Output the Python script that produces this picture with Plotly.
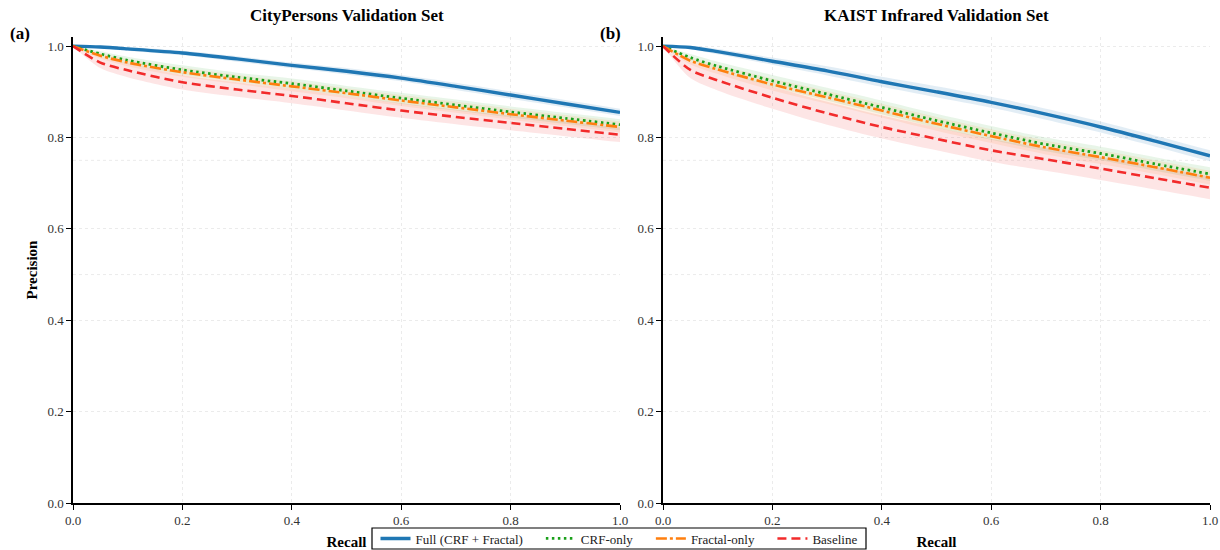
import plotly.graph_objects as go
from plotly.subplots import make_subplots

# ---------------- data ----------------
recall = [0.0, 0.05, 0.1, 0.2, 0.3, 0.4, 0.5, 0.6, 0.7, 0.8, 0.9, 1.0]

models = ["Full (CRF + Fractal)", "CRF-only", "Fractal-only", "Baseline"]

# CityPersons (a)
cp_full    = [1.0, 0.998, 0.994, 0.985, 0.972, 0.958, 0.945, 0.930, 0.912, 0.893, 0.874, 0.855]
cp_crf     = [1.0, 0.983, 0.969, 0.948, 0.932, 0.918, 0.902, 0.886, 0.871, 0.856, 0.842, 0.828]
cp_fractal = [1.0, 0.979, 0.964, 0.943, 0.927, 0.912, 0.897, 0.881, 0.866, 0.851, 0.837, 0.823]
cp_base    = [1.0, 0.964, 0.947, 0.921, 0.905, 0.891, 0.875, 0.859, 0.845, 0.832, 0.819, 0.806]

cp_full_sd    = [0.0, 0.003, 0.004, 0.005, 0.006, 0.006, 0.007, 0.007, 0.008, 0.008, 0.008, 0.008]
cp_crf_sd     = [0.0, 0.006, 0.008, 0.010, 0.010, 0.011, 0.011, 0.012, 0.012, 0.012, 0.012, 0.012]
cp_fractal_sd = [0.0, 0.006, 0.008, 0.010, 0.010, 0.011, 0.011, 0.012, 0.012, 0.012, 0.012, 0.012]
cp_base_sd    = [0.0, 0.012, 0.015, 0.016, 0.016, 0.016, 0.016, 0.016, 0.016, 0.016, 0.016, 0.016]

# KAIST infrared (b)
ka_full    = [1.0, 0.997, 0.988, 0.967, 0.946, 0.922, 0.900, 0.877, 0.851, 0.823, 0.792, 0.760]
ka_crf     = [1.0, 0.975, 0.956, 0.924, 0.895, 0.866, 0.837, 0.810, 0.785, 0.765, 0.742, 0.720]
ka_fractal = [1.0, 0.968, 0.949, 0.916, 0.888, 0.859, 0.830, 0.803, 0.778, 0.757, 0.735, 0.712]
ka_base    = [1.0, 0.948, 0.925, 0.887, 0.853, 0.823, 0.797, 0.772, 0.752, 0.732, 0.711, 0.690]

ka_full_sd    = [0.0, 0.004, 0.006, 0.008, 0.010, 0.011, 0.012, 0.012, 0.012, 0.012, 0.012, 0.012]
ka_crf_sd     = [0.0, 0.008, 0.010, 0.013, 0.014, 0.015, 0.015, 0.015, 0.015, 0.015, 0.015, 0.015]
ka_fractal_sd = [0.0, 0.008, 0.010, 0.013, 0.014, 0.015, 0.015, 0.015, 0.015, 0.015, 0.015, 0.015]
ka_base_sd    = [0.0, 0.018, 0.022, 0.024, 0.025, 0.025, 0.025, 0.025, 0.025, 0.025, 0.025, 0.025]

ref_levels = [0.5, 0.75]
tick_vals = [0.0, 0.2, 0.4, 0.6, 0.8, 1.0]
tick_text = ["0.0", "0.2", "0.4", "0.6", "0.8", "1.0"]

panel_titles = ["CityPersons Validation Set", "KAIST Infrared Validation Set"]
panel_labels = ["(a)", "(b)"]

# ---------------- styles ----------------
colors = ["#1f77b4", "#1aa01a", "#ff7f0e", "#f22b2b"]
fills = ["rgba(31,119,180,0.13)", "rgba(26,160,26,0.10)", "rgba(255,127,14,0.10)", "rgba(242,43,43,0.12)"]
dashes = ["solid", "2.5px,3.5px", "11px,3px,3px,3px", "9px,5px"]
widths = [3.4, 2.8, 2.6, 2.6]
legend_pad = ["\u00a0\u00a0\u00a0\u00a0", "\u00a0\u00a0\u00a0\u00a0", "\u00a0\u00a0\u00a0\u00a0", ""]

FONT = "Liberation Serif, Times New Roman, serif"

panels = [
    [(cp_full, cp_full_sd), (cp_crf, cp_crf_sd), (cp_fractal, cp_fractal_sd), (cp_base, cp_base_sd)],
    [(ka_full, ka_full_sd), (ka_crf, ka_crf_sd), (ka_fractal, ka_fractal_sd), (ka_base, ka_base_sd)],
]

fig = make_subplots(rows=1, cols=2)

for pi, series in enumerate(panels):
    col = pi + 1
    for mi, (vals, sd) in enumerate(series):
        upper = [v + s for v, s in zip(vals, sd)]
        lower = [v - s for v, s in zip(vals, sd)]
        fig.add_trace(go.Scatter(x=recall, y=upper, mode="lines",
                                 line=dict(width=0, shape="spline", smoothing=0.8),
                                 showlegend=False, hoverinfo="skip"), row=1, col=col)
        fig.add_trace(go.Scatter(x=recall, y=lower, mode="lines",
                                 line=dict(width=0, shape="spline", smoothing=0.8),
                                 fill="tonexty", fillcolor=fills[mi],
                                 showlegend=False, hoverinfo="skip"), row=1, col=col)
    for mi, (vals, sd) in enumerate(series):
        fig.add_trace(go.Scatter(x=recall, y=vals, mode="lines", name=models[mi] + legend_pad[mi],
                                 line=dict(color=colors[mi], width=widths[mi], dash=dashes[mi],
                                           shape="spline", smoothing=0.8),
                                 showlegend=(pi == 0)), row=1, col=col)
    for lv in ref_levels:
        fig.add_hline(y=lv, line=dict(color="#ebebeb", width=1, dash="dot"), layer="below", row=1, col=col)

x_domains = [[73 / 1220, 620 / 1220], [663 / 1220, 1210 / 1220]]
y_domain = [1 - 503 / 550, 1 - 37 / 550]

axis_common = dict(
    showline=True, linecolor="black", linewidth=1.5, mirror=False,
    ticks="outside", ticklen=5, tickwidth=1.2, tickcolor="black",
    showgrid=True, gridcolor="#ebebeb", griddash="dot", gridwidth=1,
    zeroline=False, tickvals=tick_vals, ticktext=tick_text,
    tickfont=dict(family=FONT, size=13, color="#333"), automargin=False,
)

for i in range(2):
    xa = "xaxis" if i == 0 else "xaxis2"
    ya = "yaxis" if i == 0 else "yaxis2"
    fig.layout[xa].update(domain=x_domains[i], range=[0, 1.0], **axis_common,
                          title=dict(text="<b>Recall</b>", font=dict(family=FONT, size=15, color="black"), standoff=10))
    fig.layout[ya].update(domain=y_domain, range=[0, 1.02], **axis_common)

fig.layout.yaxis.title = dict(text="<b>Precision</b>", font=dict(family=FONT, size=15, color="black"), standoff=6)

annotations = []
for i in range(2):
    cx = (x_domains[i][0] + x_domains[i][1]) / 2
    annotations.append(dict(text="<b>" + panel_titles[i] + "</b>", x=cx, y=1 - 16 / 550, xref="paper", yref="paper",
                            xanchor="center", yanchor="middle", showarrow=False,
                            font=dict(family=FONT, size=17, color="black")))
lab_x = [8 / 1220, 598 / 1220]
for i in range(2):
    annotations.append(dict(text="<b>" + panel_labels[i] + "</b>", x=lab_x[i], y=1 - 34 / 550, xref="paper", yref="paper",
                            xanchor="left", yanchor="middle", showarrow=False,
                            font=dict(family=FONT, size=17, color="black")))
fig.update_layout(annotations=list(fig.layout.annotations) + annotations)

# legend frame drawn as a shape so it can be thinner than plotly's padded legend box
fig.add_shape(type="rect", xref="paper", yref="paper",
              x0=372 / 1220, x1=866 / 1220, y0=1 - 549 / 550, y1=1 - 528 / 550,
              line=dict(color="black", width=1.2), fillcolor="white", layer="below")

fig.update_layout(
    width=1220, height=550,
    margin=dict(l=0, r=0, t=0, b=0, autoexpand=False),
    plot_bgcolor="white", paper_bgcolor="white",
    font=dict(family=FONT, color="black"),
    legend=dict(orientation="h", x=619 / 1220, y=1 - 538.5 / 550, xanchor="center", yanchor="middle",
                borderwidth=0, bgcolor="rgba(0,0,0,0)", traceorder="normal",
                font=dict(family=FONT, size=13, color="#222"), itemwidth=30,
                tracegroupgap=0),
)

fig.write_html("out.html")
